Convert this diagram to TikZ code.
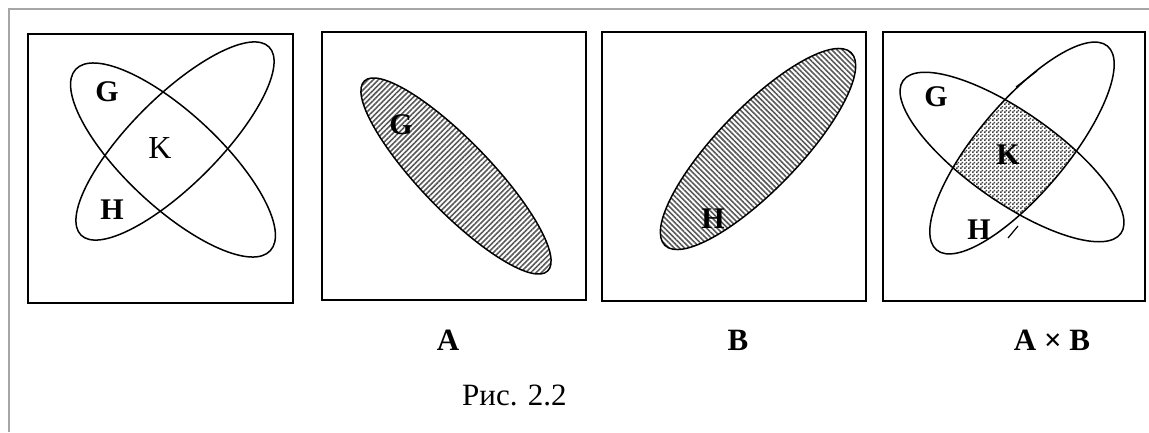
\documentclass[tikz,border=0pt]{standalone}
\usepackage{fontspec}
\setmainfont{Liberation Serif}
\usetikzlibrary{patterns,patterns.meta}
\pgfdeclarepatternformonly{checker}{\pgfpointorigin}{\pgfpoint{4pt}{4pt}}{\pgfpoint{4pt}{4pt}}{%
  \pgfpathrectangle{\pgfpointorigin}{\pgfpoint{2pt}{2pt}}%
  \pgfpathrectangle{\pgfpoint{2pt}{2pt}}{\pgfpoint{2pt}{2pt}}%
  \pgfusepath{fill}}
\tikzset{
  frame/.style={draw=black!35, line width=2pt},
  panel/.style={draw, line width=1.6pt},
  setline/.style={draw, line width=1.5pt},
  lbl/.style={font=\bfseries\fontsize{30}{30}\selectfont, inner sep=0pt},
  lblr/.style={font=\fontsize{32}{32}\selectfont, inner sep=0pt},
  captxt/.style={font=\bfseries\fontsize{31}{31}\selectfont, inner sep=0pt},
  capreg/.style={font=\fontsize{31}{31}\selectfont, inner sep=0pt},
  stripesNE/.style={pattern={Lines[angle=45,distance=3.7pt,line width=1.6pt]}, pattern color=black!65},
  stripesNW/.style={pattern={Lines[angle=-45,distance=3.7pt,line width=1.6pt]}, pattern color=black!65},
}
\begin{document}
\begin{tikzpicture}[x=1pt,y=1pt]
\useasboundingbox (0,0) rectangle (1149,-432);
\draw[frame] (9,-432) -- (9,-9) -- (1149,-9);

% Panel 1
\draw[panel] (28,-34) rectangle (293,-303);
\draw[setline, rotate around={-43:(173,-160)}] (173,-160) ellipse [x radius=133, y radius=47];
\draw[setline, rotate around={45:(175,-141)}] (175,-141) ellipse [x radius=133, y radius=44];
\node[lbl] (g1) at (107,-92) {G};
\node[lblr] (k1) at (160,-148) {K};
\node[lbl] (h1) at (112,-210) {H};

% Panel 2
\draw[panel] (322,-32) rectangle (586,-300);
\draw[setline, stripesNE, rotate around={-46:(456,-176)}] (456,-176) ellipse [x radius=132, y radius=35];
\node[lbl] (g2) at (401,-125) {G};

% Panel 3
\draw[panel] (602,-32) rectangle (866,-301);
\draw[setline, stripesNW, rotate around={46:(758,-149)}] (758,-149) ellipse [x radius=134, y radius=41];
\node[lbl] (h3) at (713,-219) {H};

% Panel 4
\draw[panel] (883,-32) rectangle (1145,-301);
\begin{scope}
  \clip[rotate around={-35:(1012,-157)}] (1012,-157) ellipse [x radius=133, y radius=45];
  \fill[pattern=checker, pattern color=black!75, rotate around={50:(1022,-148)}] (1022,-148) ellipse [x radius=133, y radius=45];
\end{scope}
\draw[setline, rotate around={-35:(1012,-157)}] (1012,-157) ellipse [x radius=133, y radius=45];
\draw[setline, rotate around={50:(1022,-148)}] (1022,-148) ellipse [x radius=133, y radius=45];
\draw[line width=1.2pt] (1016,-87) -- (1037,-71);
\draw[line width=1.2pt] (1008,-238) -- (1018,-226);
\node[lbl] (g4) at (936,-97) {G};
\node[lbl] (k4) at (1008,-155) {K};
\node[lbl] (h4) at (979,-230) {H};

% Captions
\node[captxt, anchor=base] (ca) at (448,-350) {A};
\node[captxt, anchor=base] (cb) at (738,-350) {B};
\node[captxt, anchor=base] (cab) at (1052,-350) {A × B};
\node[capreg, anchor=base west] (fig) at (462,-405) {Рис. 2.2};
\end{tikzpicture}
\end{document}
